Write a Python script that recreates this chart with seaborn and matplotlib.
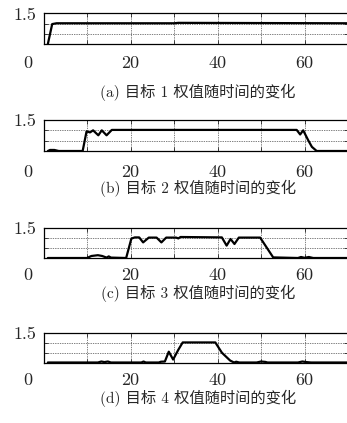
import matplotlib
matplotlib.use("Agg")
import matplotlib.pyplot as plt
import matplotlib.transforms as mtransforms
import numpy as np
import pandas as pd
import seaborn as sns

# Target weights over time
t_a = [1.0, 2.0, 3.0, 30.0, 31.0, 70.0]
w_a = [0.0, 0.98, 1.02, 1.02, 1.04, 1.02]

t_b = [1.0, 1.5, 2.5, 3.5, 9.0, 9.9, 10.7, 11.4, 12.6, 13.4, 14.5, 15.7,
       58.2, 59.0, 59.7, 60.9, 61.7, 62.8, 70.0]
w_b = [0.0, 0.05, 0.05, 0.0, 0.0, 0.95, 0.9, 1.0, 0.76, 1.0, 0.76, 1.02,
       1.02, 0.8, 1.0, 0.5, 0.2, 0.0, 0.0]

t_c = [1.0, 10.0, 11.0, 12.5, 13.5, 14.5, 15.0, 15.5, 19.0, 20.2, 21.0, 22.0,
       22.9, 24.2, 26.0, 27.1, 28.2, 30.5, 31.0, 31.5, 41.0, 42.1, 43.0, 43.9,
       44.9, 49.8, 52.8, 58.5, 59.2, 60.0, 61.0, 62.0, 70.0]
w_c = [0.0, 0.0, 0.1, 0.14, 0.1, 0.02, 0.08, 0.02, 0.0, 0.97, 1.03, 1.03,
       0.78, 1.02, 1.02, 0.78, 1.02, 1.02, 0.98, 1.05, 1.03, 0.62, 0.95, 0.7,
       1.02, 1.02, 0.03, 0.0, 0.05, 0.01, 0.05, 0.0, 0.0]

t_d = [1.0, 12.5, 13.3, 14.0, 14.8, 15.5, 22.5, 23.0, 23.5, 26.5, 27.0, 27.9,
       28.8, 29.8, 31.0, 32.0, 39.5, 41.0, 42.9, 43.8, 44.3, 45.0, 49.0, 50.0,
       51.0, 51.5, 58.5, 59.5, 60.5, 61.5, 70.0]
w_d = [0.0, 0.0, 0.05, 0.02, 0.05, 0.0, 0.0, 0.05, 0.0, 0.0, 0.04, 0.05,
       0.55, 0.15, 0.65, 1.02, 1.02, 0.5, 0.1, 0.0, 0.04, 0.0, 0.0, 0.05,
       0.03, 0.0, 0.0, 0.05, 0.02, 0.0, 0.0]

captions = ["(a) 目标 1 权值随时间的变化", "(b) 目标 2 权值随时间的变化",
            "(c) 目标 3 权值随时间的变化", "(d) 目标 4 权值随时间的变化"]
x_ticks = [10, 20, 30, 40, 50, 60]
x_labels = ["", "20", "", "40", "", "60"]
y_ticks = [0.5, 1.0, 1.5]
y_labels = ["", "", "1.5"]

series = [(t_a, w_a), (t_b, w_b), (t_c, w_c), (t_d, w_d)]

sns.set_style("white")
plt.rcParams["font.family"] = ["cmr10", "Noto Sans CJK SC", "DejaVu Sans"]
plt.rcParams["axes.unicode_minus"] = False

fig = plt.figure(figsize=(3.47, 4.23), dpi=100)
H = 423.0
W = 347.0
# (top, bottom) of each panel, pixels
boxes = [(13.5, 44.0), (120.0, 151.0), (228.0, 258.0), (333.0, 362.5)]
caption_y = [92.0, 188.0, 293.0, 398.0]
tick_y = [63.0, 172.0, 275.0, 380.0]

for i, ((t, w), (top, bot)) in enumerate(zip(series, boxes)):
    ax = fig.add_axes([43.5 / W, 1 - bot / H, 304.5 / W, (bot - top) / H])
    df = pd.DataFrame({"t": t, "w": w})
    sns.lineplot(data=df, x="t", y="w", ax=ax, color="black", lw=1.6,
                 estimator=None, sort=False)
    ax.set_xlim(0, 70)
    ax.set_ylim(0, 1.5)
    ax.set_xticks(x_ticks)
    ax.set_xticklabels([])
    ax.set_yticks(y_ticks)
    ax.set_yticklabels(y_labels)
    ax.set_xlabel("")
    ax.set_ylabel("")
    ax.grid(True, linestyle=(0, (1, 1.5)), color="black", lw=0.5)
    ax.tick_params(axis="x", direction="in", length=3, width=0.6,
                   top=True, bottom=True)
    ax.tick_params(axis="y", direction="in", length=3, width=0.6,
                   labelsize=13, pad=5, left=True, right=True)
    for s in ax.spines.values():
        s.set_color("black")
        s.set_linewidth(0.9)
    # x tick labels sit on one row below each panel; "0" is left of the origin
    row = mtransforms.blended_transform_factory(ax.transData, fig.transFigure)
    for xv, xl in zip(x_ticks, x_labels):
        if xl:
            ax.text(xv, 1 - tick_y[i] / H, xl, transform=row, ha="center",
                    va="center", fontsize=13)
    fig.text(28 / W, 1 - tick_y[i] / H, "0", ha="center", va="center",
             fontsize=13)
    fig.text(198 / W, 1 - caption_y[i] / H, captions[i], ha="center",
             va="center", fontsize=11)

fig.savefig("out.png", dpi=100)
